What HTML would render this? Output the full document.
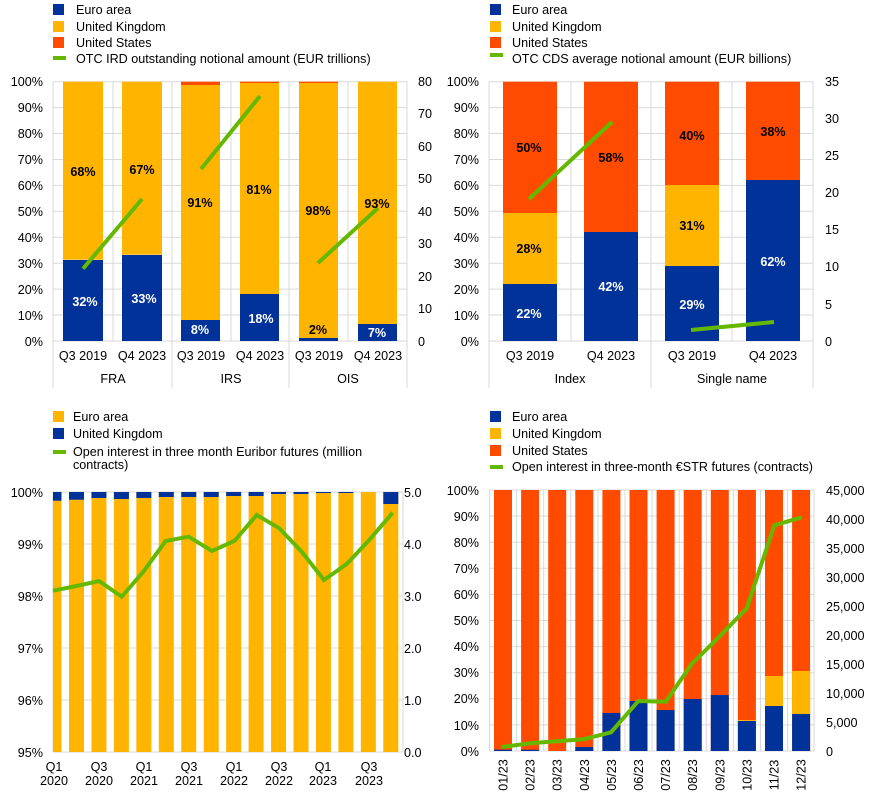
<!DOCTYPE html>
<html><head><meta charset="utf-8"><style>
html,body{margin:0;padding:0;background:#fff;}
svg{display:block;font-family:"Liberation Sans",sans-serif;}
text{font-size:12.6px;fill:#000;}
.b{font-weight:bold;}
.w{fill:#fff;font-weight:bold;}
</style></head><body>
<svg width="873" height="798" viewBox="0 0 873 798" xmlns="http://www.w3.org/2000/svg">
<!-- ============ PANEL 1 ============ -->
<g>
<rect x="53" y="4" width="11" height="11" fill="#003299"/><text x="76" y="14">Euro area</text>
<rect x="53" y="21" width="11" height="11" fill="#FFB400"/><text x="76" y="31">United Kingdom</text>
<rect x="53" y="37" width="11" height="11" fill="#FF4B00"/><text x="76" y="47">United States</text>
<rect x="53" y="56" width="13" height="4" fill="#65B800"/><text x="76" y="63">OTC IRD outstanding notional amount (EUR trillions)</text>
<g stroke="#d9d9d9" stroke-width="1">
<line x1="53" x2="407" y1="81.7" y2="81.7"/><line x1="53" x2="407" y1="107.6" y2="107.6"/><line x1="53" x2="407" y1="133.5" y2="133.5"/><line x1="53" x2="407" y1="159.5" y2="159.5"/><line x1="53" x2="407" y1="185.4" y2="185.4"/><line x1="53" x2="407" y1="211.3" y2="211.3"/><line x1="53" x2="407" y1="237.2" y2="237.2"/><line x1="53" x2="407" y1="263.2" y2="263.2"/><line x1="53" x2="407" y1="289.1" y2="289.1"/><line x1="53" x2="407" y1="315" y2="315"/>
<line x1="113" x2="113" y1="81.7" y2="341"/><line x1="231" x2="231" y1="81.7" y2="341"/><line x1="348" x2="348" y1="81.7" y2="341"/>
<line x1="53" x2="53" y1="81.7" y2="388"/><line x1="172" x2="172" y1="81.7" y2="388"/><line x1="289" x2="289" y1="81.7" y2="388"/><line x1="407" x2="407" y1="81.7" y2="388"/>
<line x1="53" x2="407" y1="341" y2="341"/>
</g>
<rect x="63" y="81.7" width="40" height="178" fill="#FFB400"/><rect x="63" y="260" width="40" height="81" fill="#003299"/>
<rect x="122" y="81.7" width="40" height="173" fill="#FFB400"/><rect x="122" y="255" width="40" height="86" fill="#003299"/>
<rect x="181" y="81.7" width="39" height="3.3" fill="#FF4B00"/><rect x="181" y="85" width="39" height="235" fill="#FFB400"/><rect x="181" y="320" width="39" height="21" fill="#003299"/>
<rect x="240" y="81.7" width="39" height="1.3" fill="#FF4B00"/><rect x="240" y="83" width="39" height="211" fill="#FFB400"/><rect x="240" y="294" width="39" height="47" fill="#003299"/>
<rect x="299" y="81.7" width="39" height="1.3" fill="#FF4B00"/><rect x="299" y="83" width="39" height="255" fill="#FFB400"/><rect x="299" y="338" width="39" height="3" fill="#003299"/>
<rect x="358" y="81.7" width="39" height="242.3" fill="#FFB400"/><rect x="358" y="324" width="39" height="17" fill="#003299"/>
<g stroke="#65B800" stroke-width="4" stroke-linecap="butt">
<line x1="83" y1="268.7" x2="142" y2="199"/><line x1="201" y1="169" x2="260" y2="96"/><line x1="318" y1="263" x2="378" y2="208"/>
</g>
<g text-anchor="middle" class="b">
<text class="b" x="83" y="176">68%</text><text class="b" x="142" y="174">67%</text><text class="b" x="200" y="207">91%</text><text class="b" x="259" y="194">81%</text><text class="b" x="318" y="215">98%</text><text class="b" x="377" y="208">93%</text>
<text class="w" x="85" y="306">32%</text><text class="w" x="144" y="303">33%</text><text class="w" x="200" y="334">8%</text><text class="w" x="261" y="323">18%</text><text class="b" x="318" y="334">2%</text><text class="w" x="377" y="337">7%</text>
</g>
<g text-anchor="end">
<text x="43" y="86">100%</text><text x="43" y="112">90%</text><text x="43" y="138">80%</text><text x="43" y="164">70%</text><text x="43" y="190">60%</text><text x="43" y="216">50%</text><text x="43" y="242">40%</text><text x="43" y="268">30%</text><text x="43" y="294">20%</text><text x="43" y="320">10%</text><text x="43" y="346">0%</text>
</g>
<g>
<text x="418" y="86">80</text><text x="418" y="118">70</text><text x="418" y="151">60</text><text x="418" y="183">50</text><text x="418" y="216">40</text><text x="418" y="248">30</text><text x="418" y="281">20</text><text x="418" y="313">10</text><text x="418" y="346">0</text>
</g>
<g text-anchor="middle">
<text x="83" y="360">Q3 2019</text><text x="142" y="360">Q4 2023</text><text x="201" y="360">Q3 2019</text><text x="260" y="360">Q4 2023</text><text x="319" y="360">Q3 2019</text><text x="378" y="360">Q4 2023</text>
<text x="113" y="383">FRA</text><text x="231" y="383">IRS</text><text x="348" y="383">OIS</text>
</g>
</g>

<!-- ============ PANEL 2 ============ -->
<g>
<rect x="490" y="4" width="11" height="11" fill="#003299"/><text x="512" y="14">Euro area</text>
<rect x="490" y="21" width="11" height="11" fill="#FFB400"/><text x="512" y="31">United Kingdom</text>
<rect x="490" y="37" width="11" height="11" fill="#FF4B00"/><text x="512" y="47">United States</text>
<rect x="490" y="53" width="13" height="4" fill="#65B800"/><text x="512" y="63">OTC CDS average notional amount (EUR billions)</text>
<g stroke="#d9d9d9" stroke-width="1">
<line x1="489" x2="813" y1="81.7" y2="81.7"/><line x1="489" x2="813" y1="107.6" y2="107.6"/><line x1="489" x2="813" y1="133.5" y2="133.5"/><line x1="489" x2="813" y1="159.5" y2="159.5"/><line x1="489" x2="813" y1="185.4" y2="185.4"/><line x1="489" x2="813" y1="211.3" y2="211.3"/><line x1="489" x2="813" y1="237.2" y2="237.2"/><line x1="489" x2="813" y1="263.2" y2="263.2"/><line x1="489" x2="813" y1="289.1" y2="289.1"/><line x1="489" x2="813" y1="315" y2="315"/>
<line x1="571" x2="571" y1="81.7" y2="341"/><line x1="732" x2="732" y1="81.7" y2="341"/>
<line x1="489" x2="489" y1="81.7" y2="388"/><line x1="651" x2="651" y1="81.7" y2="388"/><line x1="813" x2="813" y1="81.7" y2="388"/>
<line x1="489" x2="813" y1="341" y2="341"/>
</g>
<rect x="503" y="81.7" width="54" height="131.3" fill="#FF4B00"/><rect x="503" y="213" width="54" height="71" fill="#FFB400"/><rect x="503" y="284" width="54" height="57" fill="#003299"/>
<rect x="584" y="81.7" width="54" height="150.3" fill="#FF4B00"/><rect x="584" y="232" width="54" height="109" fill="#003299"/>
<rect x="665" y="81.7" width="54" height="103.3" fill="#FF4B00"/><rect x="665" y="185" width="54" height="81" fill="#FFB400"/><rect x="665" y="266" width="54" height="75" fill="#003299"/>
<rect x="746" y="81.7" width="54" height="98.3" fill="#FF4B00"/><rect x="746" y="180" width="54" height="161" fill="#003299"/>
<g stroke="#65B800" stroke-width="4">
<line x1="529" y1="199" x2="612" y2="122"/><line x1="691" y1="330" x2="774" y2="322"/>
</g>
<g text-anchor="middle">
<text class="b" x="529" y="152">50%</text><text class="b" x="611" y="162">58%</text><text class="b" x="692" y="140">40%</text><text class="b" x="773" y="136">38%</text>
<text class="b" x="529" y="253">28%</text><text class="b" x="692" y="230">31%</text>
<text class="w" x="529" y="318">22%</text><text class="w" x="611" y="291">42%</text><text class="w" x="692" y="309">29%</text><text class="w" x="773" y="266">62%</text>
</g>
<g text-anchor="end">
<text x="479" y="86">100%</text><text x="479" y="112">90%</text><text x="479" y="138">80%</text><text x="479" y="164">70%</text><text x="479" y="190">60%</text><text x="479" y="216">50%</text><text x="479" y="242">40%</text><text x="479" y="268">30%</text><text x="479" y="294">20%</text><text x="479" y="320">10%</text><text x="479" y="346">0%</text>
</g>
<g>
<text x="825" y="86">35</text><text x="825" y="123">30</text><text x="825" y="160">25</text><text x="825" y="197">20</text><text x="825" y="234">15</text><text x="825" y="271">10</text><text x="825" y="309">5</text><text x="825" y="346">0</text>
</g>
<g text-anchor="middle">
<text x="530" y="360">Q3 2019</text><text x="611" y="360">Q4 2023</text><text x="692" y="360">Q3 2019</text><text x="773" y="360">Q4 2023</text>
<text x="570" y="383">Index</text><text x="732" y="383">Single name</text>
</g>
</g>

<!-- ============ PANEL 3 ============ -->
<g>
<rect x="53" y="411" width="11" height="11" fill="#FFB400"/><text x="73" y="421">Euro area</text>
<rect x="53" y="428" width="11" height="11" fill="#003299"/><text x="73" y="438">United Kingdom</text>
<rect x="53" y="450" width="13" height="4" fill="#65B800"/><text x="73" y="456">Open interest in three month Euribor futures (million</text>
<text x="73" y="469">contracts)</text>
<g stroke="#d9d9d9" stroke-width="1">
<line x1="53" x2="403" y1="492" y2="492"/><line x1="53" x2="403" y1="544" y2="544"/><line x1="53" x2="403" y1="596" y2="596"/><line x1="53" x2="403" y1="648" y2="648"/><line x1="53" x2="403" y1="700" y2="700"/>
<line x1="53" x2="53" y1="492" y2="752"/><line x1="403" x2="403" y1="492" y2="752"/>
<line x1="53" x2="403" y1="752" y2="752"/>
</g>
<g fill="#FFB400">
<rect x="53" y="492" width="8.5" height="260"/><rect x="69" y="492" width="15" height="260"/><rect x="91.45" y="492" width="15" height="260"/><rect x="113.9" y="492" width="15" height="260"/><rect x="136.35" y="492" width="15" height="260"/><rect x="158.8" y="492" width="15" height="260"/><rect x="181.25" y="492" width="15" height="260"/><rect x="203.7" y="492" width="15" height="260"/><rect x="226.15" y="492" width="15" height="260"/><rect x="248.6" y="492" width="15" height="260"/><rect x="271.05" y="492" width="15" height="260"/><rect x="293.5" y="492" width="15" height="260"/><rect x="315.95" y="492" width="15" height="260"/><rect x="338.4" y="492" width="15" height="260"/><rect x="360.85" y="492" width="15" height="260"/><rect x="383.3" y="492" width="15" height="260"/>
</g>
<g fill="#003299">
<rect x="53" y="492" width="8.5" height="8.7"/><rect x="69" y="492" width="15" height="7.7"/><rect x="91.45" y="492" width="15" height="6"/><rect x="113.9" y="492" width="15" height="7"/><rect x="136.35" y="492" width="15" height="6"/><rect x="158.8" y="492" width="15" height="5"/><rect x="181.25" y="492" width="15" height="5"/><rect x="203.7" y="492" width="15" height="5"/><rect x="226.15" y="492" width="15" height="4"/><rect x="248.6" y="492" width="15" height="4"/><rect x="271.05" y="492" width="15" height="2"/><rect x="293.5" y="492" width="15" height="2"/><rect x="315.95" y="492" width="15" height="1"/><rect x="338.4" y="492" width="15" height="1"/><rect x="383.3" y="492" width="15" height="12"/>
</g>
<polyline fill="none" stroke="#65B800" stroke-width="4" stroke-linejoin="miter" points="53,590.7 76.5,586 99,581 121.7,596.7 143.3,571.7 165.7,541 188.7,536.7 212,551 234.3,541 256.7,515 279.3,528.3 301.7,551.7 324,580 346.7,564 368.3,541 392.7,512.7"/>
<g text-anchor="end">
<text x="43" y="497">100%</text><text x="43" y="549">99%</text><text x="43" y="601">98%</text><text x="43" y="653">97%</text><text x="43" y="705">96%</text><text x="43" y="757">95%</text>
</g>
<g>
<text x="404" y="497">5.0</text><text x="404" y="549">4.0</text><text x="404" y="601">3.0</text><text x="404" y="653">2.0</text><text x="404" y="705">1.0</text><text x="404" y="757">0.0</text>
</g>
<g text-anchor="middle">
<text x="54" y="771">Q1</text><text x="54" y="785">2020</text>
<text x="99" y="771">Q3</text><text x="99" y="785">2020</text>
<text x="144" y="771">Q1</text><text x="144" y="785">2021</text>
<text x="189" y="771">Q3</text><text x="189" y="785">2021</text>
<text x="234" y="771">Q1</text><text x="234" y="785">2022</text>
<text x="279" y="771">Q3</text><text x="279" y="785">2022</text>
<text x="323" y="771">Q1</text><text x="323" y="785">2023</text>
<text x="369" y="771">Q3</text><text x="369" y="785">2023</text>
</g>
</g>

<!-- ============ PANEL 4 ============ -->
<g>
<rect x="490" y="411" width="11" height="11" fill="#003299"/><text x="512" y="421">Euro area</text>
<rect x="490" y="428" width="11" height="11" fill="#FFB400"/><text x="512" y="438">United Kingdom</text>
<rect x="490" y="445" width="11" height="11" fill="#FF4B00"/><text x="512" y="455">United States</text>
<rect x="490" y="465" width="13" height="4" fill="#65B800"/><text x="512" y="471">Open interest in three-month €STR futures (contracts)</text>
<g stroke="#d9d9d9" stroke-width="1">
<line x1="489" x2="814" y1="490" y2="490"/><line x1="489" x2="814" y1="516.1" y2="516.1"/><line x1="489" x2="814" y1="542.2" y2="542.2"/><line x1="489" x2="814" y1="568.3" y2="568.3"/><line x1="489" x2="814" y1="594.4" y2="594.4"/><line x1="489" x2="814" y1="620.5" y2="620.5"/><line x1="489" x2="814" y1="646.6" y2="646.6"/><line x1="489" x2="814" y1="672.7" y2="672.7"/><line x1="489" x2="814" y1="698.8" y2="698.8"/><line x1="489" x2="814" y1="724.9" y2="724.9"/>
<line x1="489.5" x2="489.5" y1="490" y2="751"/><line x1="516.6" x2="516.6" y1="490" y2="751"/><line x1="543.7" x2="543.7" y1="490" y2="751"/><line x1="570.8" x2="570.8" y1="490" y2="751"/><line x1="597.9" x2="597.9" y1="490" y2="751"/><line x1="625" x2="625" y1="490" y2="751"/><line x1="652.1" x2="652.1" y1="490" y2="751"/><line x1="679.2" x2="679.2" y1="490" y2="751"/><line x1="706.3" x2="706.3" y1="490" y2="751"/><line x1="733.4" x2="733.4" y1="490" y2="751"/><line x1="760.5" x2="760.5" y1="490" y2="751"/><line x1="787.6" x2="787.6" y1="490" y2="751"/><line x1="814" x2="814" y1="490" y2="751"/>
<line x1="489" x2="814" y1="751" y2="751"/>
</g>
<g fill="#FF4B00">
<rect x="494" y="490" width="18" height="261"/><rect x="521.1" y="490" width="18" height="261"/><rect x="548.2" y="490" width="18" height="261"/><rect x="575.3" y="490" width="18" height="261"/><rect x="602.4" y="490" width="18" height="261"/><rect x="629.5" y="490" width="18" height="261"/><rect x="656.6" y="490" width="18" height="261"/><rect x="683.7" y="490" width="18" height="261"/><rect x="710.8" y="490" width="18" height="261"/><rect x="737.9" y="490" width="18" height="261"/><rect x="765" y="490" width="18" height="261"/><rect x="792.1" y="490" width="18" height="261"/>
</g>
<g fill="#FFB400">
<rect x="737.9" y="720" width="18" height="31"/><rect x="765" y="676" width="18" height="75"/><rect x="792.1" y="671" width="18" height="80"/>
</g>
<g fill="#003299">
<rect x="494" y="749.7" width="18" height="1.3"/><rect x="521.1" y="749.7" width="18" height="1.3"/><rect x="575.3" y="747" width="18" height="4"/><rect x="602.4" y="713" width="18" height="38"/><rect x="629.5" y="701" width="18" height="50"/><rect x="656.6" y="710" width="18" height="41"/><rect x="683.7" y="699" width="18" height="52"/><rect x="710.8" y="695" width="18" height="56"/><rect x="737.9" y="721" width="18" height="30"/><rect x="765" y="706" width="18" height="45"/><rect x="792.1" y="714" width="18" height="37"/>
</g>
<polyline fill="none" stroke="#65B800" stroke-width="4" points="501.7,747 530,743.3 556.7,741.3 583.3,739.3 611,732.3 638.3,701 665.7,701.7 691.7,664 719.3,636.7 746.7,608.3 774.3,525.3 801.7,517.3"/>
<g text-anchor="end">
<text x="479" y="495">100%</text><text x="479" y="521">90%</text><text x="479" y="547">80%</text><text x="479" y="573">70%</text><text x="479" y="599">60%</text><text x="479" y="625">50%</text><text x="479" y="651">40%</text><text x="479" y="677">30%</text><text x="479" y="703">20%</text><text x="479" y="730">10%</text><text x="479" y="756">0%</text>
</g>
<g>
<text x="826" y="495">45,000</text><text x="826" y="524">40,000</text><text x="826" y="553">35,000</text><text x="826" y="582">30,000</text><text x="826" y="611">25,000</text><text x="826" y="640">20,000</text><text x="826" y="669">15,000</text><text x="826" y="698">10,000</text><text x="826" y="727">5,000</text><text x="826" y="756">0</text>
</g>
<g text-anchor="middle">
<text transform="translate(507.5,775) rotate(-90)">01/23</text>
<text transform="translate(534.6,775) rotate(-90)">02/23</text>
<text transform="translate(561.7,775) rotate(-90)">03/23</text>
<text transform="translate(588.8,775) rotate(-90)">04/23</text>
<text transform="translate(615.9,775) rotate(-90)">05/23</text>
<text transform="translate(643,775) rotate(-90)">06/23</text>
<text transform="translate(670.1,775) rotate(-90)">07/23</text>
<text transform="translate(697.2,775) rotate(-90)">08/23</text>
<text transform="translate(724.3,775) rotate(-90)">09/23</text>
<text transform="translate(751.4,775) rotate(-90)">10/23</text>
<text transform="translate(778.5,775) rotate(-90)">11/23</text>
<text transform="translate(805.6,775) rotate(-90)">12/23</text>
</g>
</g>
</svg>
</body></html>
